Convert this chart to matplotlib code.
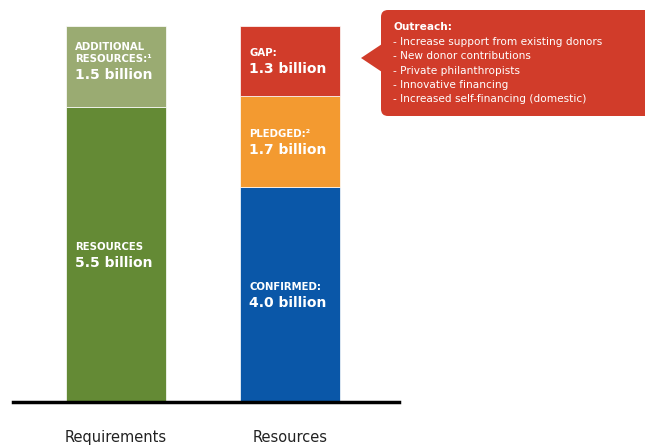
import matplotlib
matplotlib.use('Agg')
import matplotlib.pyplot as plt
from matplotlib.patches import FancyBboxPatch, Polygon

# data (billions)
categories = ['Requirements', 'Resources']
req_names = ['RESOURCES', 'ADDITIONAL\nRESOURCES:\u00b9']
req_values = [5.5, 1.5]
res_names = ['CONFIRMED:', 'PLEDGED:\u00b2', 'GAP:']
res_values = [4.0, 1.7, 1.3]
outreach_title = 'Outreach:'
outreach_items = ['Increase support from existing donors', 'New donor contributions',
                  'Private philanthropists', 'Innovative financing',
                  'Increased self-financing (domestic)']

req_colors = ['#648a35', '#9aab72']
res_colors = ['#0a57a8', '#f39a30', '#d13c2a']

plt.rcParams['font.family'] = ['DejaVu Sans']

W, H = 645, 447
fig = plt.figure(figsize=(W / 100, H / 100), dpi=100)

# main axes placed so that the baseline sits at y=402px, top at 26px
left_px, right_px, base_px, top_px = 13, 399, 402, 26
ax = fig.add_axes([left_px / W, (H - base_px) / H, (right_px - left_px) / W, (base_px - top_px) / H])
ax.set_xlim(-0.592, 1.626)
ax.set_ylim(0, 7.0)
width = 0.575

def stack(x, names, values, colors):
    bottom = 0
    for name, v, c in zip(names, values, colors):
        ax.bar(x, v, bottom=bottom, width=width, color=c, edgecolor='#ffffff', linewidth=0.5, zorder=2)
        mid = bottom + v / 2
        xl = x - width / 2
        ax.annotate(name, (xl, mid), xytext=(6.5, 2), textcoords='offset points',
                    ha='left', va='bottom', color='white', fontsize=7.3, fontweight='bold',
                    linespacing=1.15)
        ax.annotate(f'{v:.1f} billion', (xl, mid), xytext=(6.5, -1), textcoords='offset points',
                    ha='left', va='top', color='white', fontsize=10, fontweight='bold')
        bottom += v

stack(0, req_names, req_values, req_colors)
stack(1, res_names, res_values, res_colors)

ax.set_xticks([0, 1])
ax.set_xticklabels(categories, fontsize=10.5, color='#222222')
ax.tick_params(axis='x', length=0, pad=20)
ax.set_yticks([])
for s in ['top', 'right', 'left']:
    ax.spines[s].set_visible(False)
ax.spines['bottom'].set_linewidth(2.5)
ax.spines['bottom'].set_zorder(3)

# callout box in pixel coordinates
ov = fig.add_axes([0, 0, 1, 1], zorder=5)
ov.set_xlim(0, W)
ov.set_ylim(H, 0)
ov.axis('off')
ov.patch.set_alpha(0)
box = FancyBboxPatch((381, 10), 280, 106, boxstyle='round,pad=0,rounding_size=7',
                     facecolor='#d13c2a', edgecolor='none')
ov.add_patch(box)
ov.add_patch(Polygon([(382, 44), (361, 58), (382, 72)], closed=True, facecolor='#d13c2a', edgecolor='none'))
ov.text(393, 27, outreach_title, color='white', fontsize=7.6, fontweight='bold', va='center', ha='left')
for i, item in enumerate(outreach_items):
    ov.text(393, 42 + i * 14.3, '- ' + item, color='white', fontsize=7.6, va='center', ha='left')

fig.savefig('out.png', dpi=100)
